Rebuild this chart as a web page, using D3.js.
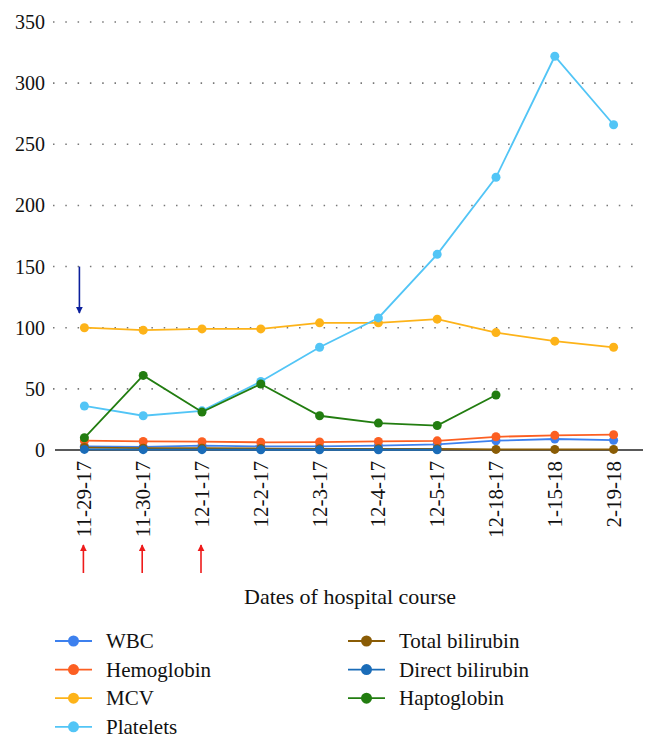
<!DOCTYPE html>
<html>
<head>
<meta charset="utf-8">
<script src="https://cdn.jsdelivr.net/npm/d3@7"></script>
<style>
  html, body { margin: 0; padding: 0; background: #fff; }
  text { font-family: "Liberation Serif"; }
</style>
</head>
<body>
<svg id="chart" width="657" height="746"></svg>
<script>
const dates = ["11-29-17","11-30-17","12-1-17","12-2-17","12-3-17","12-4-17","12-5-17","12-18-17","1-15-18","2-19-18"];
const yTicks = [0, 50, 100, 150, 200, 250, 300, 350];

const wbc            = [3, 2.5, 3.5, 3, 3, 3.5, 4.6, 7.6, 9, 8];
const hemoglobin     = [7.6, 7, 6.8, 6.3, 6.5, 7, 7.5, 10.8, 12, 12.5];
const mcv            = [100, 98, 99, 99, 104, 104, 107, 96, 89, 84];
const platelets      = [36, 28, 32, 56, 84, 108, 160, 223, 322, 266];
const totalBilirubin = [2, 1.5, 1.5, 1.2, 1, 1, 1, 0.5, 0.5, 0.5];
const directBilirubin= [0.5, 0.3, 0.3, 0.2, 0.2, 0.2, 0.2, null, null, null];
const haptoglobin    = [10, 61, 31, 54, 28, 22, 20, 45, null, null];

const seriesNames  = ["WBC","Hemoglobin","MCV","Platelets","Total bilirubin","Direct bilirubin","Haptoglobin"];
const seriesColors = ["#3d80ee","#fc5f22","#fdb319","#52c5f6","#8a5c05","#1a6cb8","#227d10"];
const seriesValues = [wbc, hemoglobin, mcv, platelets, totalBilirubin, directBilirubin, haptoglobin];

// annotations: blue arrow at first date (from 150 down to ~112), red arrows under first three dates
const blueArrow = {date: "11-29-17", from: 150, to: 112};
const redArrowDates = ["11-29-17","11-30-17","12-1-17"];

const FONT = "Liberation Serif";
const svg = d3.select("#chart");
const x = d3.scalePoint().domain(dates).range([55, 643]).padding(0.5);
const y = d3.scaleLinear().domain([0, 350]).range([450, 22]);

const defs = svg.append("defs");
function marker(id, color) {
  defs.append("marker").attr("id", id).attr("viewBox", "0 0 10 10")
    .attr("refX", 9).attr("refY", 5).attr("markerWidth", 4.5).attr("markerHeight", 4.5)
    .attr("orient", "auto").attr("markerUnits", "strokeWidth")
    .append("path").attr("d", "M0,0 L10,5 L0,10 z").attr("fill", color);
}
marker("arrBlue", "#0b1f9c");
marker("arrRed", "#ee1b1b");

// gridlines
svg.append("g").selectAll("line").data(yTicks.filter(d => d > 0)).join("line")
  .attr("x1", 53).attr("x2", 643)
  .attr("y1", d => y(d)).attr("y2", d => y(d))
  .attr("stroke", "#777").attr("stroke-width", 1.6)
  .attr("stroke-dasharray", "1.5 10.8").attr("stroke-linecap", "butt");

// y tick labels
svg.append("g").selectAll("text").data(yTicks).join("text")
  .attr("x", 45).attr("y", d => y(d)).attr("dy", "0.35em")
  .attr("text-anchor", "end").attr("font-family", FONT).attr("font-size", 20)
  .attr("fill", "#111").text(d => d);

// x axis line
svg.append("line").attr("x1", 55).attr("x2", 643).attr("y1", y(0)).attr("y2", y(0))
  .attr("stroke", "#222").attr("stroke-width", 1.5);

// x tick labels rotated
svg.append("g").selectAll("text").data(dates).join("text")
  .attr("transform", d => `translate(${x(d)},${y(0) + 11}) rotate(-90)`)
  .attr("text-anchor", "end").attr("dy", "0.33em")
  .attr("font-family", FONT).attr("font-size", 21)
  .attr("fill", "#111").text(d => d);

// series
const line = d3.line().defined(d => d.v != null).x(d => x(d.date)).y(d => y(d.v));
seriesValues.forEach((vals, i) => {
  const pts = dates.map((date, j) => ({date, v: vals[j]}));
  const g = svg.append("g");
  g.append("path").datum(pts).attr("d", line).attr("fill", "none")
    .attr("stroke", seriesColors[i]).attr("stroke-width", 1.8);
  g.selectAll("circle").data(pts.filter(d => d.v != null)).join("circle")
    .attr("cx", d => x(d.date)).attr("cy", d => y(d.v)).attr("r", 4.5)
    .attr("fill", seriesColors[i]);
});

// blue arrow
svg.append("line")
  .attr("x1", x(blueArrow.date) - 5).attr("x2", x(blueArrow.date) - 5)
  .attr("y1", y(blueArrow.from)).attr("y2", y(blueArrow.to))
  .attr("stroke", "#0b1f9c").attr("stroke-width", 1.6).attr("marker-end", "url(#arrBlue)");

// red arrows
svg.append("g").selectAll("line").data(redArrowDates).join("line")
  .attr("x1", d => x(d) - 1).attr("x2", d => x(d) - 1)
  .attr("y1", 573).attr("y2", 545)
  .attr("stroke", "#ee1b1b").attr("stroke-width", 1.6).attr("marker-end", "url(#arrRed)");

// x axis title
svg.append("text").attr("x", 350).attr("y", 604).attr("text-anchor", "middle")
  .attr("font-family", FONT).attr("font-size", 22)
  .attr("fill", "#111").text("Dates of hospital course");

// legend
const legend = svg.append("g");
seriesNames.forEach((name, i) => {
  const col = i < 4 ? 0 : 1;
  const row = i < 4 ? i : i - 4;
  const lx = col === 0 ? 55 : 348;
  const ly = 641 + row * 28.6;
  const g = legend.append("g");
  g.append("line").attr("x1", lx).attr("x2", lx + 37).attr("y1", ly).attr("y2", ly)
    .attr("stroke", seriesColors[i]).attr("stroke-width", 1.8);
  g.append("circle").attr("cx", lx + 18.5).attr("cy", ly).attr("r", 5.5).attr("fill", seriesColors[i]);
  g.append("text").attr("x", lx + 51).attr("y", ly).attr("dy", "0.33em")
    .attr("font-family", FONT).attr("font-size", 21)
    .attr("fill", "#111").text(name);
});
</script>
</body>
</html>
